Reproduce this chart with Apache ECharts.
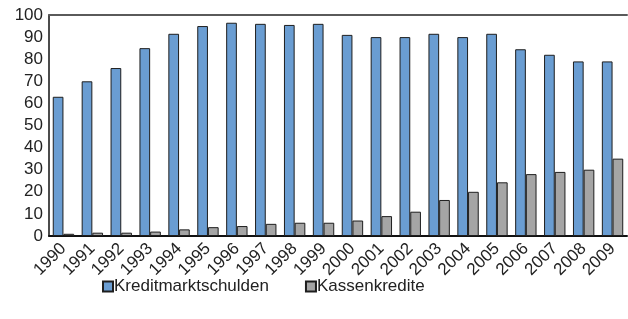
<!DOCTYPE html>
<html>
<head>
<meta charset="utf-8">
<script src="https://cdn.jsdelivr.net/npm/echarts@6/dist/echarts.min.js"></script>
<style>
html, body { margin: 0; padding: 0; background: #fff; }
#main { width: 628px; height: 319px; }
</style>
</head>
<body>
<div id="main"></div>
<script>
var years = ['1990', '1991', '1992', '1993', '1994', '1995', '1996', '1997', '1998', '1999',
	'2000', '2001', '2002', '2003', '2004', '2005', '2006', '2007', '2008', '2009'];
var kreditmarkt = [63, 70, 76, 85, 91.5, 95, 96.5, 96, 95.5, 96, 91, 90, 90, 91.5, 90, 91.5, 84.5, 82, 79, 79];
var kassenkredite = [1, 1.5, 1.5, 2, 3, 4, 4.5, 5.5, 6, 6, 7, 9, 11, 16.3, 20, 24.3, 28, 29, 30, 35];
var seriesNames = ['Kreditmarktschulden', 'Kassenkredite'];

var font = 'Liberation Sans, Arial, sans-serif';
var myChart = echarts.init(document.getElementById('main'), null, { renderer: 'canvas' });

var option = {
	animation: false,
	backgroundColor: '#ffffff',
	textStyle: { fontFamily: font },
	grid: { left: 49, right: 1, top: 15, bottom: 83, containLabel: false },
	legend: {
		data: seriesNames,
		left: 97,
		top: 273,
		itemWidth: 10,
		itemHeight: 10,
		itemGap: 36,
		icon: 'rect',
		textStyle: { fontSize: 17, color: '#222', fontFamily: font, padding: [0, 0, 0, -4] }
	},
	xAxis: [{
		type: 'category',
		data: years,
		axisLine: { show: true, lineStyle: { color: '#111', width: 2 } },
		axisTick: { show: false },
		axisLabel: {
			rotate: 45,
			margin: 10,
			fontSize: 17,
			color: '#222',
			fontFamily: font,
			interval: 0
		}
	}, {
		type: 'category',
		data: years,
		position: 'top',
		axisLine: { show: true, onZero: false, lineStyle: { color: '#5a5a5a', width: 2 } },
		axisTick: { show: false },
		axisLabel: { show: false }
	}],
	yAxis: {
		type: 'value',
		min: 0,
		max: 100,
		interval: 10,
		axisLine: { show: true, lineStyle: { color: '#111', width: 1.5 } },
		axisTick: { show: false },
		splitLine: { show: false },
		axisLabel: { fontSize: 17, color: '#222', margin: 6, fontFamily: font }
	},
	series: [{
		name: seriesNames[0],
		type: 'bar',
		data: kreditmarkt,
		barGap: '0%',
		barCategoryGap: '26%',
		itemStyle: { color: '#6a9dd2', borderColor: '#1e1e1e', borderWidth: 1 }
	}, {
		name: seriesNames[1],
		type: 'bar',
		data: kassenkredite,
		itemStyle: { color: '#a5a5a5', borderColor: '#1e1e1e', borderWidth: 1 }
	}]
};
myChart.setOption(option);
</script>
</body>
</html>
